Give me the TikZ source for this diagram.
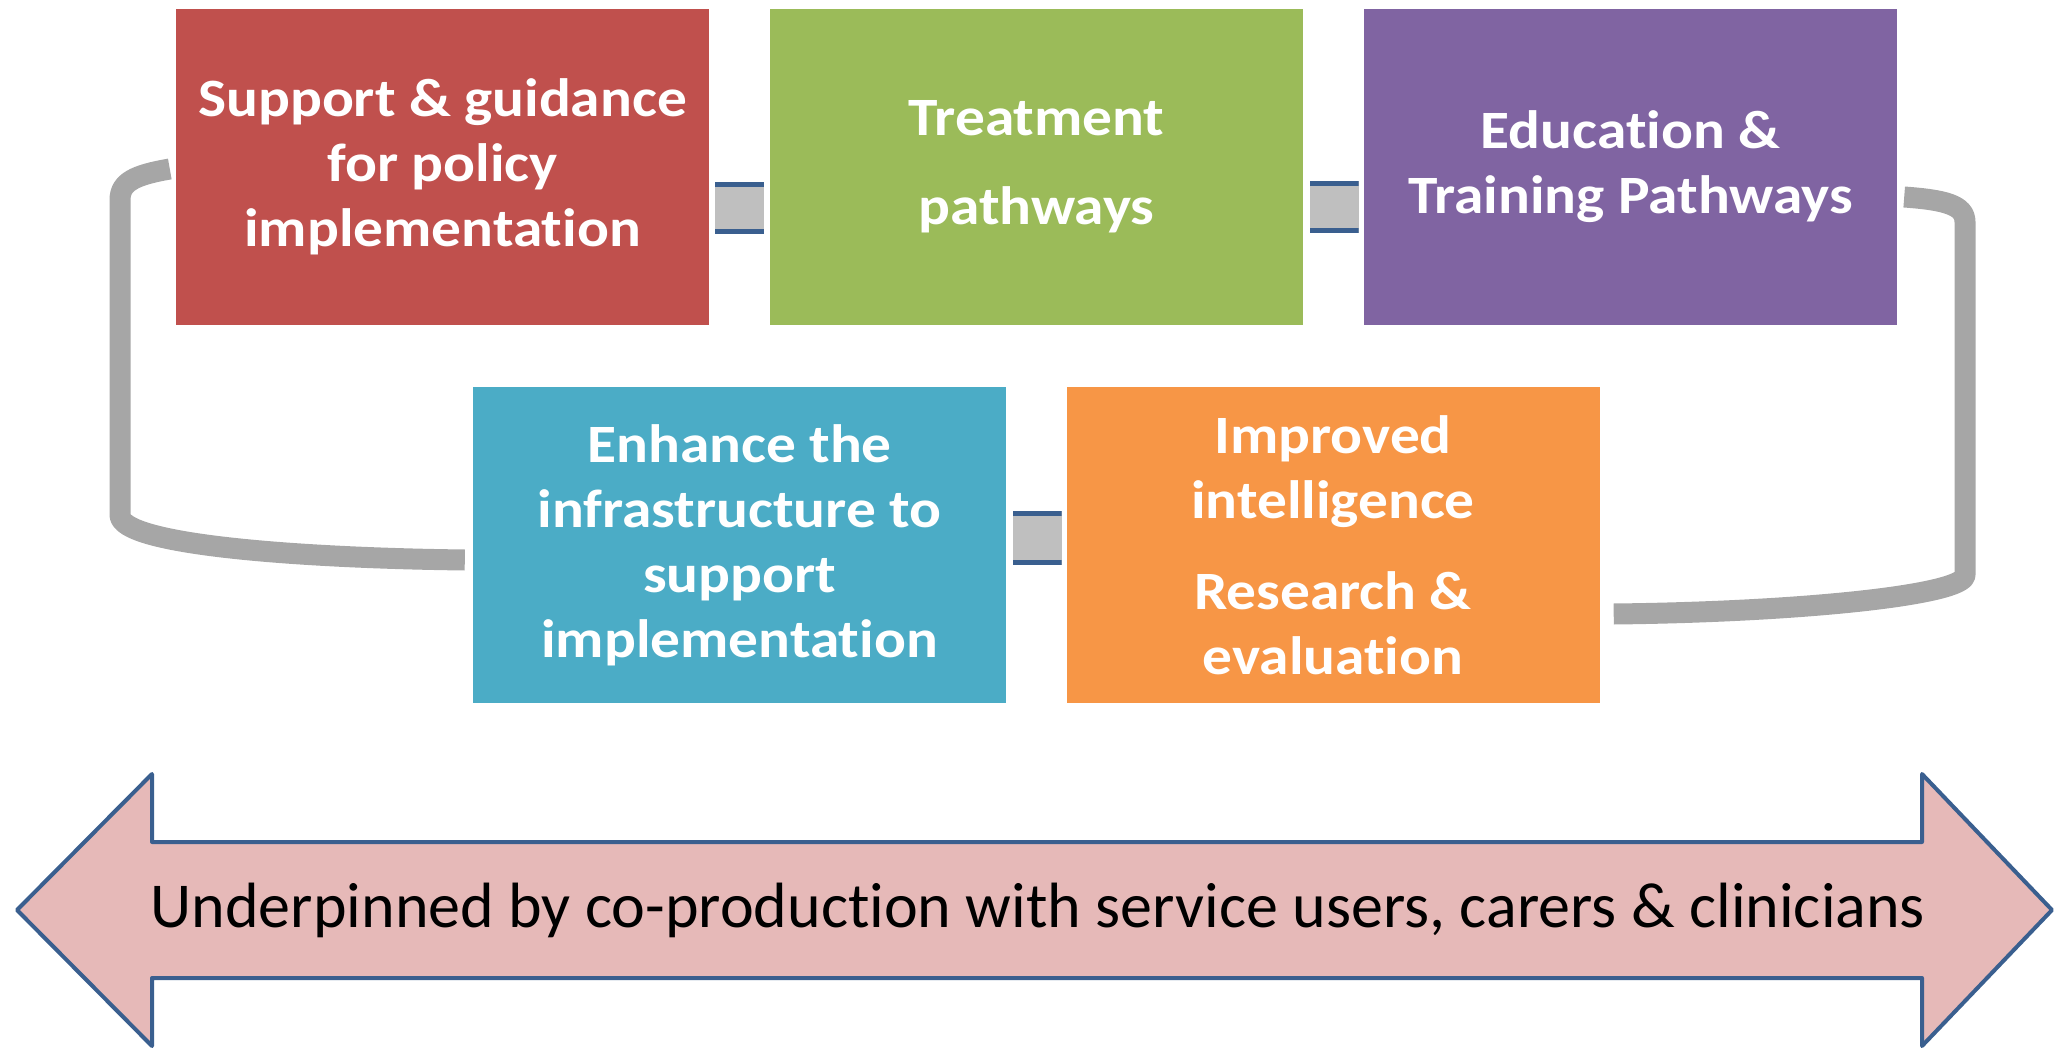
\documentclass[tikz,border=0pt]{standalone}
\usepackage{fontspec}
\setmainfont{Carlito}[Ligatures=NoCommon]
\newfontfamily\stagefont[FakeStretch=1.1,Ligatures=NoCommon]{Carlito}
\begin{document}
\begin{tikzpicture}[x=1pt,y=-1pt,
  stage/.style={rectangle, minimum width=533pt, minimum height=316pt, inner sep=0pt,
    text=white, align=center, font=\stagefont\bfseries\fontsize{54}{65}\selectfont},
  link/.style={rectangle, fill=linkgray, inner sep=0pt, minimum width=49pt, minimum height=52pt,
    path picture={
      \fill[linkblue] (path picture bounding box.north west) rectangle ([yshift=-5pt]path picture bounding box.north east);
      \fill[linkblue] (path picture bounding box.south west) rectangle ([yshift=5pt]path picture bounding box.south east);
    }},
  loop/.style={draw=loopgray, line width=21pt, line cap=butt, line join=round},
]
\definecolor{cred}{HTML}{C0504D}
\definecolor{cgreen}{HTML}{9BBB59}
\definecolor{cpurple}{HTML}{8064A2}
\definecolor{cteal}{HTML}{4BACC6}
\definecolor{corange}{HTML}{F79646}
\definecolor{linkgray}{HTML}{BFBFBF}
\definecolor{linkblue}{HTML}{3A5F8F}
\definecolor{loopgray}{HTML}{A6A6A6}
\definecolor{arrowfill}{HTML}{E6B9B8}
\definecolor{arrowline}{HTML}{3A5F8F}

\useasboundingbox (0,0) rectangle (2056,1048);

% top row of stages
\node[stage, fill=cred]    (policy)    at (442.5,167) {Support \& guidance\\for policy\\implementation};
\node[stage, fill=cgreen]  (treatment) at (1036.5,167) {Treatment\\[24pt]pathways};
\node[stage, fill=cpurple] (education) at (1630.5,167) {Education \&\\Training Pathways};

% bottom row of stages
\node[stage, fill=cteal]   (infra)     at (739.5,545) {Enhance the\\infrastructure to\\support\\implementation};
\node[stage, fill=corange] (intel)     at (1333,545) {Improved\\intelligence\\[26pt]Research \&\\evaluation};

% small joints between neighbouring stages
\node[link] (j1) at (739.5,208) {};
\node[link] (j2) at (1334,207) {};
\node[link, minimum height=54pt] (j3) at (1037,538) {};

% grey loops closing the cycle on each side
\draw[loop] ([xshift=-6pt,yshift=-2pt]policy.west)
  .. controls (135,175) and (120,182) .. (120,200)
  -- (120,515)
  .. controls (120,545) and (300,558) .. ([xshift=-8pt,yshift=-15pt]infra.west);
\draw[loop] ([xshift=7pt,yshift=-30pt]education.east)
  .. controls (1945,200) and (1965,205) .. (1965,222)
  -- (1965,575)
  .. controls (1965,595) and (1800,612) .. ([xshift=14pt,yshift=-69pt]intel.east);

% double-headed base arrow
\draw[fill=arrowfill, draw=arrowline, line width=4pt, line join=round]
  (17,910) -- (152,774) -- (152,842) -- (1922,842) -- (1922,774) -- (2052,910)
  -- (1922,1046) -- (1922,978) -- (152,978) -- (152,1046) -- cycle;
\node[font=\fontsize{64}{70}\selectfont, text=black] (base) at (1038,910)
  {Underpinned by co-production with service users, carers \& clinicians};
\end{tikzpicture}
\end{document}
